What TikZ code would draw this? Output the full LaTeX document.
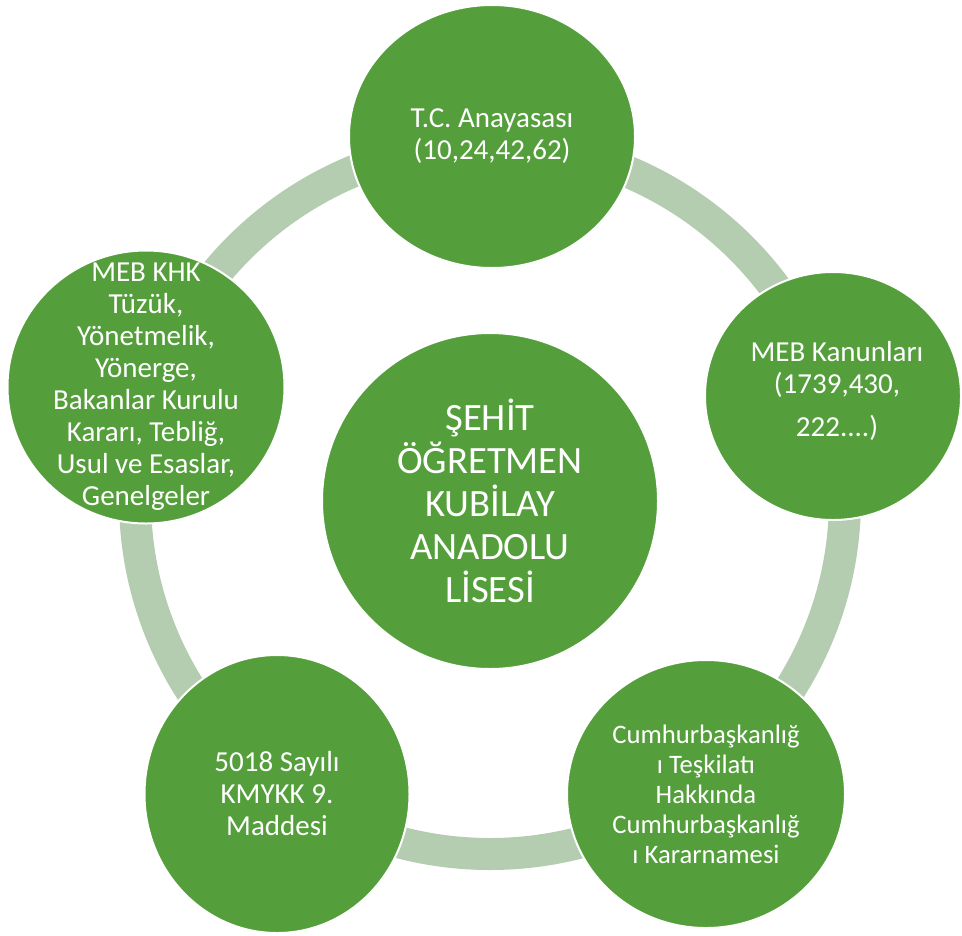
\documentclass[tikz,border=0pt]{standalone}
\usepackage{fontspec}
\setmainfont{Carlito}
\usetikzlibrary{shapes.geometric}
\definecolor{nodegreen}{RGB}{84,159,59}
\definecolor{ringgreen}{RGB}{180,205,176}
\begin{document}
\begin{tikzpicture}[x=0.75pt,y=-0.75pt,
  bubble/.style={ellipse,fill=nodegreen,draw=white,line width=1.5pt,inner sep=0pt,outer sep=0pt},
  lbl/.style={text=white,align=center,inner sep=0pt,font=\fontsize{21.75pt}{24pt}\selectfont},
  biglbl/.style={lbl,font=\fontsize{29pt}{32.25pt}\selectfont},
  smalllbl/.style={lbl,font=\fontsize{20pt}{22.5pt}\selectfont},
  ring/.style={draw=ringgreen,line width=24pt}]
\useasboundingbox (0,0) rectangle (962,935);
\coordinate (o) at (490,499);
\draw[ring] (o) circle[radius=266.25pt];
\node[bubble,minimum width=252pt,minimum height=252pt] (c0) at (490,501) {};
\node[bubble,minimum width=214.5pt,minimum height=197.25pt] (c1) at (492,136.5) {};
\node[bubble,minimum width=192pt,minimum height=186pt] (c2) at (833,396) {};
\node[bubble,minimum width=208.5pt,minimum height=201pt] (c3) at (706,794) {};
\node[bubble,minimum width=198.75pt,minimum height=208.5pt] (c4) at (277,794) {};
\node[bubble,minimum width=207.75pt,minimum height=204.75pt] (c5) at (146,387) {};
\node[biglbl] (t0) at (c0.center) {ŞEHİT\\ÖĞRETMEN\\KUBİLAY\\ANADOLU\\LİSESİ};
\node[lbl] (t1) at (c1.center) {T.C. Anayasası\\(10,24,42,62)};
\node[lbl] (t2) at ([xshift=3pt,yshift=4pt]c2.center) {MEB Kanunları\\(1739,430,\\[8pt]222....)};
\node[smalllbl] (t3) at (c3.center) {Cumhurbaşkanlığ\\ı Teşkilatı\\Hakkında\\Cumhurbaşkanlığ\\ı Kararnamesi};
\node[lbl] (t4) at (c4.center) {5018 Sayılı\\KMYKK 9.\\Maddesi};
\node[lbl] (t5) at (c5.center) {MEB KHK\\Tüzük,\\Yönetmelik,\\Yönerge,\\Bakanlar Kurulu\\Kararı, Tebliğ,\\Usul ve Esaslar,\\Genelgeler};
\end{tikzpicture}
\end{document}
